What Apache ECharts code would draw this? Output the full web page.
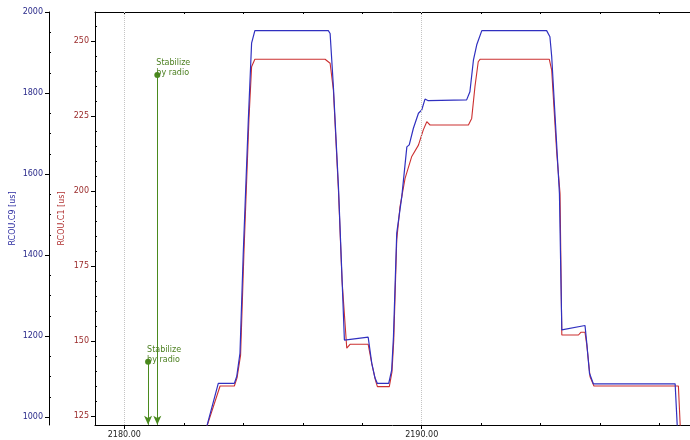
<!DOCTYPE html>
<html><head><meta charset="utf-8">
<script src="https://cdn.jsdelivr.net/npm/echarts@6/dist/echarts.min.js"></script>
<style>html,body{margin:0;padding:0;background:#fff}#c{width:690px;height:440px}</style>
</head><body><div id="c"></div>
<script>
// RCOU.C9 (blue, outer axis)
const timesC9 = [2182.76,2183.16,2183.19,2183.70,2183.78,2183.89,2184.00,2184.17,2184.28,2184.39,2186.86,2186.92,2187.03,2187.20,2187.31,2187.40,2188.20,2188.32,2188.43,2188.51,2188.89,2188.99,2189.05,2189.16,2189.33,2189.50,2189.58,2189.72,2189.89,2190.00,2190.11,2190.22,2191.51,2191.62,2191.74,2191.85,2192.02,2194.20,2194.31,2194.37,2194.63,2194.71,2195.49,2195.55,2195.64,2195.77,2198.52,2198.59,2198.62];
const valuesC9 = [973,1083,1083,1083,1100,1158,1405,1733,1923,1954,1954,1947,1816,1569,1363,1190,1197,1133,1096,1083,1083,1116,1198,1454,1544,1667,1672,1713,1750,1758,1785,1781,1783,1803,1882,1919,1954,1954,1939,1890,1552,1215,1226,1182,1108,1082,1082,980,963];
// RCOU.C1 (red, inner axis)
const timesC1 = [2182.76,2183.22,2183.70,2183.79,2183.91,2184.02,2184.19,2184.28,2184.39,2186.75,2186.92,2187.03,2187.20,2187.32,2187.48,2187.59,2188.20,2188.33,2188.45,2188.51,2188.91,2189.00,2189.06,2189.16,2189.27,2189.44,2189.66,2189.89,2190.05,2190.17,2190.28,2191.57,2191.68,2191.79,2191.90,2191.96,2194.29,2194.37,2194.54,2194.65,2194.71,2195.27,2195.35,2195.49,2195.55,2195.66,2195.79,2198.63,2198.69,2198.72];
const valuesC1 = [121,135,135,137.7,145.3,178.7,223.7,241.4,243.9,243.9,242.6,233.7,200.3,170.3,147.6,148.9,148.9,142,136.7,134.8,134.8,139.7,150.3,183.7,194.8,204.2,211.4,215.3,220.3,223.1,222,222,224.2,234.8,243.1,243.9,243.9,240.3,212.6,199.2,152,152,152.9,152.9,148.7,138.1,135,135,122,120.3];

const xRange = [2179.015, 2199.02];
const xLabelTicks = [2180, 2190];
const xMinorTicks = [2182, 2184, 2186, 2188, 2192, 2194, 2196, 2198];
const c1Range = [122, 259.67];
const c1LabelTicks = [125, 150, 175, 200, 225, 250];
const c1MinorTicks = [130,135,140,145,155,160,165,170,180,185,190,195,205,210,215,220,230,235,240,245,255];
const c9Range = [980.25, 2000];
const c9LabelTicks = [1000, 1200, 1400, 1600, 1800, 2000];
const c9MinorTicks = [1050,1100,1150,1250,1300,1350,1450,1500,1550,1650,1700,1750,1850,1900,1950];
const annotTimes = [2180.80, 2181.11];
const annotTopsC9 = [1136.6, 1844.5];
const annotText = 'Stabilize\nby radio';

const FONT = 'DejaVu Sans';
const BLUE = '#3030c0', RED = '#cc3030', GREEN = '#4a8a1e';

function xAx(opts) {
  return Object.assign({
    type: 'value', min: xRange[0], max: xRange[1], position: 'bottom',
    axisLine: {show: true, onZero: false, lineStyle: {color: '#000', width: 1}},
    axisTick: {show: false}, axisLabel: {show: false}, splitLine: {show: false}
  }, opts);
}
function yAx(range, opts) {
  return Object.assign({
    type: 'value', min: range[0], max: range[1], position: 'left',
    axisLine: {show: true, onZero: false, lineStyle: {color: '#000', width: 1}},
    axisTick: {show: false}, axisLabel: {show: false}, splitLine: {show: false}
  }, opts);
}

const chart = echarts.init(document.getElementById('c'), null, {renderer: 'canvas'});
chart.setOption({
  animation: false,
  backgroundColor: '#fff',
  grid: {left: 95, right: 0, top: 12, bottom: 15, containLabel: false, outerBoundsMode: 'none'},
  xAxis: [
    xAx({
      axisTick: {show: true, customValues: xLabelTicks, length: 4, lineStyle: {color: '#000'}},
      axisLabel: {show: true, customValues: xLabelTicks, formatter: v => v.toFixed(2), color: '#222', fontSize: 8, fontFamily: FONT, margin: 6}
    }),
    xAx({axisLine: {show: false}, axisTick: {show: true, inside: true, customValues: xMinorTicks, length: 2, lineStyle: {color: '#000'}}}),
    xAx({position: 'top', axisTick: {show: true, inside: true, customValues: xMinorTicks.concat(xLabelTicks), length: 2, lineStyle: {color: '#000'}}})
  ],
  yAxis: [
    yAx(c1Range, {
      name: 'RCOU.C1 [us]', nameLocation: 'middle', nameRotate: 90, nameGap: 29, nameMoveOverlap: false,
      nameTextStyle: {color: '#b03030', fontSize: 8, fontFamily: FONT},
      axisTick: {show: true, customValues: c1LabelTicks, length: 4, lineStyle: {color: '#000'}},
      axisLabel: {show: true, customValues: c1LabelTicks, formatter: v => String(v), color: '#9a2a2a', fontSize: 8, fontFamily: FONT, margin: 6}
    }),
    yAx(c1Range, {axisLine: {show: false}, axisTick: {show: true, inside: true, customValues: c1MinorTicks, length: 2, lineStyle: {color: '#000'}}}),
    yAx(c9Range, {
      offset: 46,
      name: 'RCOU.C9 [us]', nameLocation: 'middle', nameRotate: 90, nameGap: 32, nameMoveOverlap: false,
      nameTextStyle: {color: '#2a2aa0', fontSize: 8, fontFamily: FONT},
      axisTick: {show: true, customValues: c9LabelTicks, length: 4, lineStyle: {color: '#000'}},
      axisLabel: {show: true, customValues: c9LabelTicks, formatter: v => String(v), color: '#2a2a8a', fontSize: 8, fontFamily: FONT, margin: 6}
    }),
    yAx(c9Range, {offset: 46, axisLine: {show: false}, axisTick: {show: true, inside: true, customValues: c9MinorTicks, length: 2, lineStyle: {color: '#000'}}})
  ],
  series: [
    {
      name: 'RCOU.C1', type: 'line', xAxisIndex: 0, yAxisIndex: 0,
      data: timesC1.map((t, i) => [t, valuesC1[i]]),
      showSymbol: false, symbol: 'none', clip: true,
      lineStyle: {color: RED, width: 1.1}, itemStyle: {color: RED},
      markLine: {
        silent: true, symbol: 'none', label: {show: false},
        lineStyle: {color: '#c4c4c4', type: 'dotted', width: 1},
        data: xLabelTicks.map(t => ({xAxis: t}))
      }
    },
    {
      name: 'RCOU.C9', type: 'line', xAxisIndex: 0, yAxisIndex: 2,
      data: timesC9.map((t, i) => [t, valuesC9[i]]),
      showSymbol: false, symbol: 'none', clip: true,
      lineStyle: {color: BLUE, width: 1.2}, itemStyle: {color: BLUE},
      markLine: {
        silent: true, symbol: ['circle', 'arrow'], symbolSize: [6, 9],
        lineStyle: {color: GREEN, width: 1, type: 'solid'},
        label: {show: true, position: 'start', formatter: annotText, color: '#4b7f1f', fontSize: 8, fontFamily: FONT, lineHeight: 10, align: 'left', verticalAlign: 'bottom', distance: 0, offset: [-1, 3]},
        data: annotTimes.map((t, i) => [{coord: [t, annotTopsC9[i]]}, {coord: [t, c9Range[0] + 0.5]}])
      }
    }
  ]
});
</script></body></html>
